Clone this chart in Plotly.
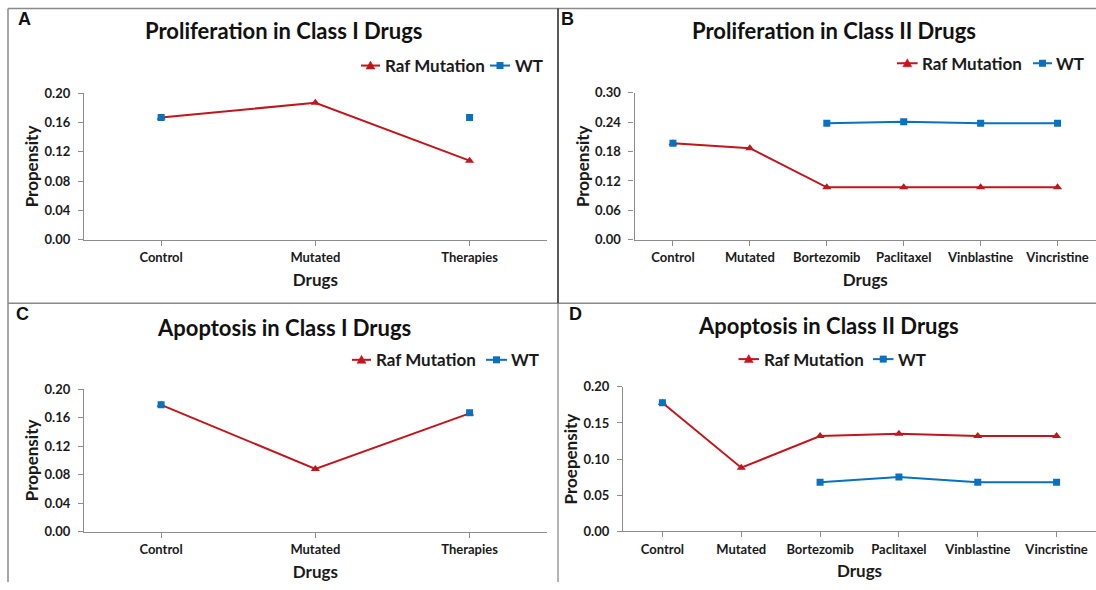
import plotly.graph_objects as go

# ---------------- data ----------------
class1_drugs = ["Control", "Mutated", "Therapies"]
class2_drugs = ["Control", "Mutated", "Bortezomib", "Paclitaxel", "Vinblastine", "Vincristine"]

prolif1_raf = [0.167, 0.187, 0.108]
prolif1_wt = [0.167, None, 0.167]

prolif2_raf = [0.197, 0.187, 0.107, 0.107, 0.107, 0.107]
prolif2_wt = [0.197, None, 0.238, 0.241, 0.238, 0.238]

apop1_raf = [0.178, 0.088, 0.166]
apop1_wt = [0.178, None, 0.167]

apop2_raf = [0.178, 0.088, 0.132, 0.135, 0.132, 0.132]
apop2_wt = [0.178, None, 0.068, 0.075, 0.068, 0.068]

titles = ["Proliferation in Class I Drugs", "Proliferation in Class II Drugs",
          "Apoptosis in Class I Drugs", "Apoptosis in Class II Drugs"]
panel_letters = ["A", "B", "C", "D"]
y_titles = ["Propensity", "Propensity", "Propensity", "Proepensity"]
y_ticks = [[0, 0.04, 0.08, 0.12, 0.16, 0.20],
           [0, 0.06, 0.12, 0.18, 0.24, 0.30],
           [0, 0.04, 0.08, 0.12, 0.16, 0.20],
           [0, 0.05, 0.10, 0.15, 0.20]]
series_names = ["Raf Mutation", "WT"]

# ---------------- style ----------------
W, H = 1096, 590
RED = "#C0161C"
BLUE = "#0A70C0"
AXIS = "#8C8C8C"
TXT = "#1a1a1a"
FONT = "Lato"

# vertical calibration of the captured picture (observed = Y0 + SY * page_y)
Y0, SY = 7.5, 0.972


def px(x):
    return min(max(x / W, 0.0), 1.0)


def py(y):
    page_y = (y - Y0) / SY
    return min(max(1 - page_y / H, 0.0), 1.0)


panels = [
    dict(cats=class1_drugs, raf=prolif1_raf, wt=prolif1_wt,
         xd=(84, 546.7), yd=(239, 92.7),
         leg=dict(y=65, s1=(361, 380), t1=383, s2=(490, 510), t2=512.5),
         title=(283.6, 30), letter=(24, 18.5)),
    dict(cats=class2_drugs, raf=prolif2_raf, wt=prolif2_wt,
         xd=(634.5, 1096), yd=(239, 92.3),
         leg=dict(y=62.7, s1=(897, 917.6), t1=919.5, s2=(1033, 1052), t2=1054),
         title=(834, 30), letter=(567, 18.5)),
    dict(cats=class1_drugs, raf=apop1_raf, wt=apop1_wt,
         xd=(84, 546.7), yd=(530.7, 388.3),
         leg=dict(y=359, s1=(352, 371), t1=373.5, s2=(486, 507), t2=508.5),
         title=(283.6, 326.7), letter=(22, 313.5)),
    dict(cats=class2_drugs, raf=apop2_raf, wt=apop2_wt,
         xd=(623, 1096), yd=(530.3, 386),
         leg=dict(y=358.3, s1=(738.5, 759), t1=761.5, s2=(873, 893.5), t2=895.5),
         title=(828, 324.3), letter=(575, 313.5)),
]

fig = go.Figure()
annotations = []
shapes = []
layout = dict(
    width=W, height=H,
    margin=dict(l=0, r=0, t=0, b=0),
    paper_bgcolor="white", plot_bgcolor="white",
    font=dict(family=FONT, color=TXT),
    showlegend=False,
)


def legend_entry(x0, x1, y, tx, label, color, symbol):
    """Legend key drawn in paper space: short line, marker glyph and label."""
    cx = (x0 + x1) / 2
    shapes.append(dict(type="line", xref="paper", yref="paper",
                       x0=px(x0), x1=px(x1), y0=py(y), y1=py(y),
                       line=dict(color=color, width=2)))
    if symbol == "triangle":
        path = (f"M{px(cx - 4.5)},{py(y + 3.5)} L{px(cx + 4.5)},{py(y + 3.5)} "
                f"L{px(cx)},{py(y - 4.5)} Z")
        shapes.append(dict(type="path", xref="paper", yref="paper", path=path,
                           fillcolor=color, line=dict(color=color, width=0.5)))
    else:
        shapes.append(dict(type="rect", xref="paper", yref="paper",
                           x0=px(cx - 3.5), x1=px(cx + 3.5), y0=py(y + 3.5), y1=py(y - 3.5),
                           fillcolor=color, line=dict(color=color, width=0)))
    annotations.append(dict(text=label, x=px(tx), y=py(y), xref="paper", yref="paper",
                            xanchor="left", yanchor="middle", showarrow=False,
                            font=dict(family=FONT, size=17, weight=700, color=TXT)))


for i, p in enumerate(panels):
    n = i + 1
    xa = "x" if n == 1 else f"x{n}"
    ya = "y" if n == 1 else f"y{n}"
    fig.add_trace(go.Scatter(
        x=p["cats"], y=p["raf"], name=series_names[0], mode="lines+markers",
        line=dict(color=RED, width=2),
        marker=dict(symbol="triangle-up", size=8, color=RED),
        xaxis=xa, yaxis=ya, connectgaps=False))
    fig.add_trace(go.Scatter(
        x=p["cats"], y=p["wt"], name=series_names[1], mode="lines+markers",
        line=dict(color=BLUE, width=2),
        marker=dict(symbol="square", size=7, color=BLUE),
        xaxis=xa, yaxis=ya, connectgaps=False))

    xkey = "xaxis" if n == 1 else f"xaxis{n}"
    ykey = "yaxis" if n == 1 else f"yaxis{n}"
    ymax = y_ticks[i][-1]
    layout[xkey] = dict(
        domain=[px(p["xd"][0]), px(p["xd"][1])], anchor=ya,
        type="category", range=[-0.5, len(p["cats"]) - 0.5],
        showline=True, linecolor=AXIS, linewidth=1.3,
        ticks="outside", ticklen=5, tickcolor=AXIS, tickwidth=1.3,
        showgrid=False, zeroline=False, ticklabelstandoff=1,
        tickfont=dict(family=FONT, size=13, weight=700, color=TXT),
        title=dict(text="Drugs", standoff=9,
                   font=dict(family=FONT, size=17, weight=700, color=TXT)),
    )
    layout[ykey] = dict(
        domain=[py(p["yd"][0]), py(p["yd"][1])], anchor=xa,
        range=[0, ymax], tickvals=y_ticks[i], tickformat=".2f",
        showline=True, linecolor=AXIS, linewidth=1.3,
        ticks="outside", ticklen=5, tickcolor=AXIS, tickwidth=1.3,
        showgrid=False, zeroline=False, ticklabelstandoff=5,
        tickfont=dict(family=FONT, size=13, weight=700, color=TXT),
        title=dict(text=y_titles[i], standoff=1,
                   font=dict(family=FONT, size=17, weight=700, color=TXT)),
    )
    lg = p["leg"]
    legend_entry(lg["s1"][0], lg["s1"][1], lg["y"], lg["t1"], series_names[0], RED, "triangle")
    legend_entry(lg["s2"][0], lg["s2"][1], lg["y"], lg["t2"], series_names[1], BLUE, "square")

    annotations.append(dict(
        text=titles[i], x=px(p["title"][0]), y=py(p["title"][1]),
        xref="paper", yref="paper", xanchor="center", yanchor="middle",
        showarrow=False,
        font=dict(family=FONT, size=22, weight=700, color="#111111")))
    annotations.append(dict(
        text=panel_letters[i], x=px(p["letter"][0]), y=py(p["letter"][1]),
        xref="paper", yref="paper", xanchor="center", yanchor="middle",
        showarrow=False,
        font=dict(family="Liberation Sans", size=18, weight=700, color="#111111")))

# panel frame lines
frame = "#8A8A8A"
top = min(py(6), 0.999)
shapes += [
    dict(type="line", xref="paper", yref="paper", x0=px(8), x1=1, y0=top, y1=top,
         line=dict(color=frame, width=1.5)),
    dict(type="line", xref="paper", yref="paper", x0=px(8), x1=px(8), y0=top, y1=0,
         line=dict(color=frame, width=1.5)),
    dict(type="line", xref="paper", yref="paper", x0=px(8), x1=1, y0=py(302.5), y1=py(302.5),
         line=dict(color=frame, width=1.3)),
    dict(type="line", xref="paper", yref="paper", x0=px(558), x1=px(558), y0=top, y1=py(302.5),
         line=dict(color="#222222", width=1.5)),
    dict(type="line", xref="paper", yref="paper", x0=px(558), x1=px(558), y0=py(302.5), y1=0,
         line=dict(color=frame, width=1.3)),
]

layout["annotations"] = annotations
layout["shapes"] = shapes
fig.update_layout(**layout)
fig.write_html(
    "out.html",
    config={"responsive": False, "displayModeBar": False},
    post_script="document.body.style.margin='0';document.documentElement.style.overflow='hidden';",
)
